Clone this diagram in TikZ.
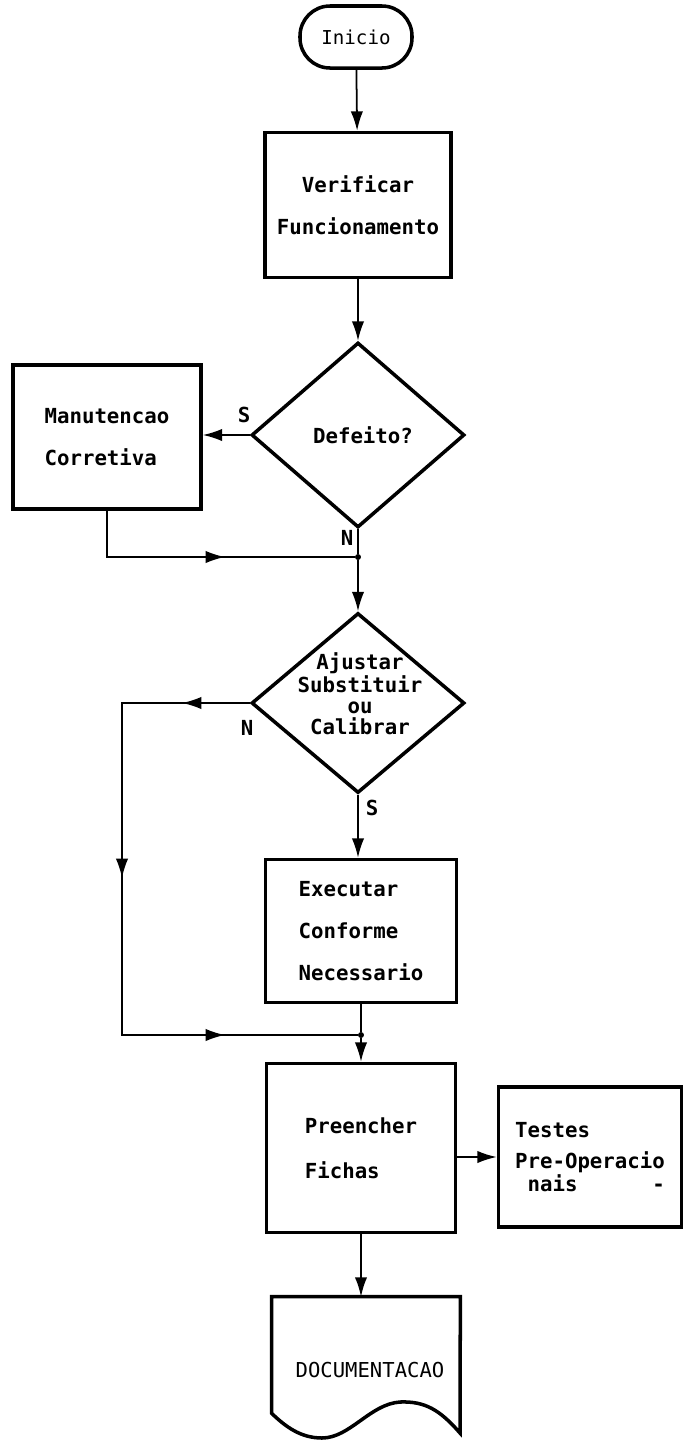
\documentclass[tikz,border=0pt]{standalone}
\usepackage{fontspec}
\setmonofont{DejaVu Sans Mono}
\usetikzlibrary{shapes.geometric,arrows.meta}

\tikzset{
  caixa/.style={draw,line width=2pt,align=left,font=\ttfamily\bfseries\fontsize{11.8}{23.8}\selectfont},
  losango/.style={draw,diamond,line width=2pt,inner sep=0pt},
  rotulo/.style={font=\ttfamily\bfseries\fontsize{11.8}{12}\selectfont},
  seta/.style={-{Latex[length=11pt,width=7pt]},line width=1pt},
  linha/.style={line width=1pt},
  ponto/.style={circle,fill,inner sep=1.2pt}
}

\begin{document}
\begin{tikzpicture}[x=0.2mm,y=-0.2mm]
\useasboundingbox (0,0) rectangle (684,1443);
% caixas
\node[draw,line width=2pt,rounded corners=6mm,minimum width=22.4mm,minimum height=12.4mm,font=\ttfamily\fontsize{10.9}{12}\selectfont](ini)at(356,37){Inicio};
\node[caixa,align=center,minimum width=37.2mm,minimum height=29mm](ver)at(358,205){Verificar\\Funcionamento};
\node[losango,minimum width=42.6mm,minimum height=37mm](def)at(358,435){};
\node[rotulo](deftxt)at(363,435){Defeito?};
\node[caixa,minimum width=37.6mm,minimum height=28.8mm](man)at(107,437){Manutencao\\Corretiva};
\node[ponto](j1)at(358,557){};
\node[losango,minimum width=42.6mm,minimum height=36mm](aju)at(358,703){};
\node[rotulo,align=center](ajutxt)at(360,694){Ajustar\\Substituir\\ou\\Calibrar};
\node[caixa,minimum width=38.2mm,minimum height=28.6mm](exe)at(361,931){Executar\\Conforme\\Necessario};
\node[ponto](j2)at(361,1035){};
\node[caixa,minimum width=37.8mm,minimum height=33.8mm,font=\ttfamily\bfseries\fontsize{11.8}{25.5}\selectfont](pre)at(361,1148){Preencher\\Fichas};
\node[caixa,minimum width=36.6mm,minimum height=28mm,font=\ttfamily\bfseries\fontsize{11.8}{11.3}\selectfont](tes)at(590,1157){Testes\\[6pt]Pre-Operacio\\~nais~~~~~~-};
\node[minimum width=37.6mm,minimum height=23.2mm](doc)at(366,1355){};
\node[font=\ttfamily\fontsize{11.7}{12}\selectfont](doctxt)at(370,1370){DOCUMENTACAO};
\draw[line width=2pt](doc.south west)--(doc.north west)--(doc.north east)--(460,1433)
  .. controls (440,1410) and (425,1401) .. (400,1402)
  .. controls (370,1404) and (350,1438) .. (322,1438)
  .. controls (300,1438) and (285,1426) .. (doc.south west)--cycle;
% pontos de passagem
\coordinate(m1)at(225,557);
\coordinate(m2)at(182,703);
\coordinate(c1)at(122,703);
\coordinate(m3)at(122,878);
\coordinate(m4)at(225,1035);
% ligacoes
\draw[seta](ini)--(ver);
\draw[seta](ver)--(def);
\draw[seta](def.west)--(man.east|-def.west);
\node[rotulo]at(244,415){S};
\draw[linha](def.south)--(j1);
\node[rotulo]at(347,538){N};
\draw[linha](man.south)|-(j1);
\draw[seta](man.south)|-(m1);
\draw[seta](j1)--(aju.north);
\draw[linha](aju.west)--(c1)|-(j2);
\draw[seta](aju.west)--(m2);
\node[rotulo]at(247,728){N};
\draw[seta](c1)--(m3);
\draw[seta](m3)|-(m4);
\draw[seta](aju.south)--(aju.south|-exe.north);
\node[rotulo]at(372,808){S};
\draw[linha](exe)--(j2);
\draw[seta](j2)--(pre);
\draw[seta](pre.east|-tes.west)--(tes.west);
\draw[seta](pre.south)--(pre.south|-doc.north);
\end{tikzpicture}
\end{document}
